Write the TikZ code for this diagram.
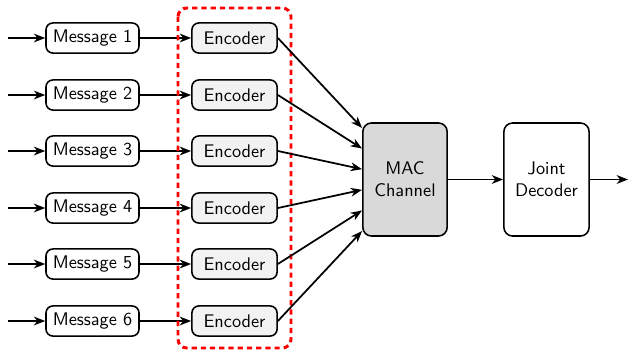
\documentclass[tikz,border=0pt]{standalone}
\usetikzlibrary{arrows.meta,calc}
\begin{document}
\begin{tikzpicture}[x=0.575pt,y=-0.575pt,
  font=\sffamily\fontsize{10.5}{12.6}\selectfont,
  box/.style={draw,line width=0.9pt,rounded corners=4pt,minimum height=17.3pt,inner sep=2pt},
  msgbox/.style={box,minimum width=53.5pt},
  encbox/.style={box,fill=gray!10,minimum width=49pt},
  bigbox/.style={draw,line width=0.9pt,rounded corners=5pt,minimum width=48.5pt,minimum height=65pt,align=center},
  arr/.style={line width=1pt,-{Stealth[length=6.5pt,width=5pt,inset=2pt]}},
  group/.style={red,line width=1.7pt,dash pattern=on 3pt off 2.3pt,rounded corners=5pt}]
\useasboundingbox (0,0) rectangle (629,350);

% six message/encoder branches
\foreach \i/\y in {1/38,2/95,3/151,4/208,5/264,6/321}{
  \coordinate (in\i) at (8,\y);
  \node[msgbox] (m\i) at (92.5,\y) {Message \i};
  \node[encbox] (e\i) at (234.5,\y) {Encoder};
  \draw[arr] (in\i) -- (m\i);
  \draw[arr] (m\i) -- (e\i);
}

% encoder group
\draw[group] (178,8) rectangle (291,348);

% channel and decoder
\node[bigbox,fill=gray!30] (mac) at (405,179.5) {MAC\\Channel};
\node[bigbox,minimum width=49pt] (dec) at (546.5,179.5) {Joint\\Decoder};
\coordinate (out) at (628,179.5);

\foreach \i/\f in {1/0.05,2/0.23,3/0.41,4/0.59,5/0.77,6/0.95}{
  \draw[arr] (e\i.east) -- ($(mac.north west)!\f!(mac.south west)$);
}
\draw[arr] (mac) -- (dec);
\draw[arr] (dec) -- (out);
\end{tikzpicture}
\end{document}
